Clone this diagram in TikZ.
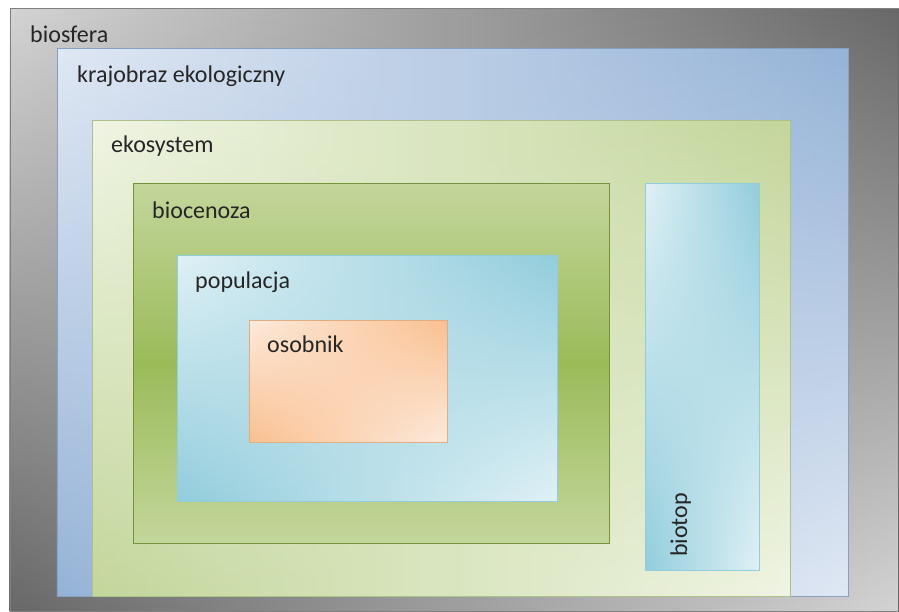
\documentclass[tikz,border=0pt]{standalone}
\usepackage{fontspec}
\setmainfont{Carlito}
\usetikzlibrary{shadows,fadings}
\definecolor{txt}{HTML}{262626}
\definecolor{grayD}{HTML}{686868}
\definecolor{grayL}{HTML}{D4D4D4}
\definecolor{blueD}{HTML}{95B3D7}
\definecolor{blueL}{HTML}{E0E8F4}
\definecolor{oliveD}{HTML}{C3D69B}
\definecolor{oliveL}{HTML}{F0F5E4}
\definecolor{olive}{HTML}{9BBB59}
\definecolor{oliveB}{HTML}{76923C}
\definecolor{aquaD}{HTML}{92CDDC}
\definecolor{aquaL}{HTML}{E0F1F6}
\definecolor{orangeD}{HTML}{FAC090}
\definecolor{orangeL}{HTML}{FDEBDD}
\tikzset{
  shadowed/.style={drop shadow={shadow xshift=.5pt,shadow yshift=-1.2pt,opacity=.55}},
}
\tikzstyle{every node}=[font=\fontsize{20.5}{24}\selectfont,text=txt,inner sep=0pt]
\tikzstyle{lbl}=[anchor=base west]
% one level: dark corners top right and bottom left, light corners top left and bottom right
\newcommand{\levelbox}[4]{%
  \fill[shadowed,#2] #4;
  \shade[left color=#2,right color=#1] #4;
  \shade[left color=#1,right color=#2,path fading=north] #4;
  \draw[#3] #4;
}

\begin{document}
\begin{tikzpicture}[x=0.03cm,y=-0.03cm]
    \useasboundingbox (0,0) rectangle (899,611);
    % nested levels
    \levelbox{grayD}{grayL}{gray}{(10,8) rectangle (899,611)}
    \levelbox{blueD}{blueL}{blueD!90!black}{(57,48) rectangle (848,596)}
    \levelbox{oliveD}{oliveL}{oliveD!90!black}{(92,120) rectangle (790,596)}
    \shade[top color=oliveD,bottom color=oliveD,middle color=olive,draw=oliveB,shadowed] (133,183) rectangle (609,543);
    \levelbox{aquaD}{aquaL}{aquaD}{(177,255) rectangle (557,501)}
    \levelbox{orangeD}{orangeL}{orangeD!90!black}{(249,320) rectangle (447,442)}
    \levelbox{aquaD}{aquaL}{aquaD}{(645,183) rectangle (759,570)}
    % labels
    \node[lbl] (biosfera) at (30,42) {biosfera};
    \node[lbl] (krajobraz) at (77,82) {krajobraz ekologiczny};
    \node[lbl] (ekosystem) at (111,152) {ekosystem};
    \node[lbl] (biocenoza) at (152,218) {biocenoza};
    \node[lbl] (populacja) at (195,288) {populacja};
    \node[lbl] (osobnik) at (267,352) {osobnik};
    \node[lbl,rotate=90] (biotop) at (687,557) {biotop};
  \end{tikzpicture}
\end{document}
